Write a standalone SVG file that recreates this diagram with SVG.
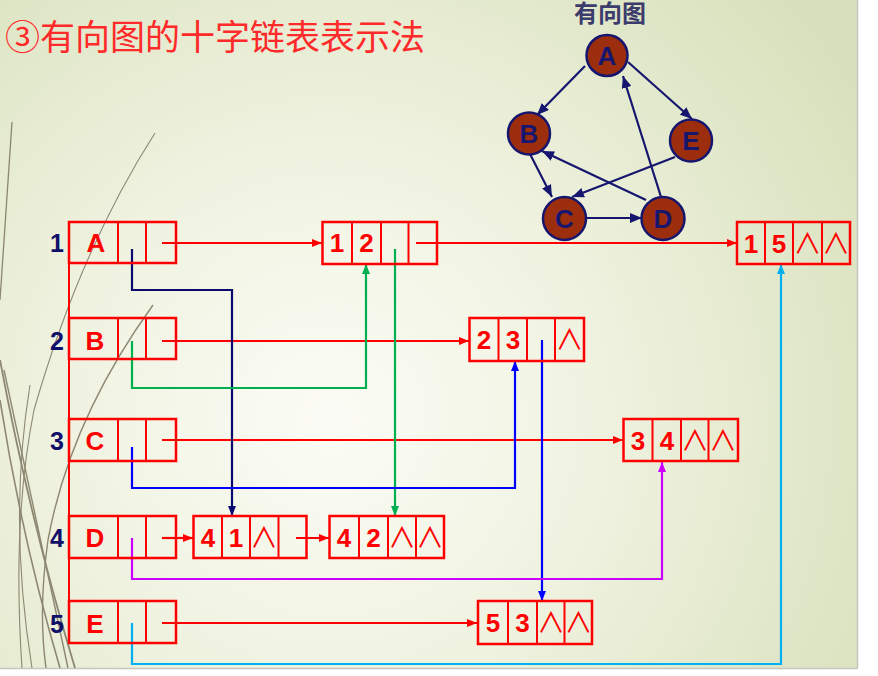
<svg xmlns="http://www.w3.org/2000/svg" width="878" height="676" viewBox="0 0 878 676">
<defs>
<radialGradient id="bg" cx="330" cy="420" r="620" gradientUnits="userSpaceOnUse">
<stop offset="0" stop-color="#fcfcf6"/>
<stop offset="0.45" stop-color="#eff2df"/>
<stop offset="1" stop-color="#d8e1bc"/>
</radialGradient>
<marker id="mRed" markerUnits="userSpaceOnUse" markerWidth="10" markerHeight="8" refX="10" refY="4" orient="auto"><path d="M0,0 L10,4 L0,8 z" fill="#ff0000"/></marker>
<marker id="mNavy" markerUnits="userSpaceOnUse" markerWidth="10" markerHeight="8" refX="10" refY="4" orient="auto"><path d="M0,0 L10,4 L0,8 z" fill="#0a0a6e"/></marker>
<marker id="mGreen" markerUnits="userSpaceOnUse" markerWidth="10" markerHeight="8" refX="10" refY="4" orient="auto"><path d="M0,0 L10,4 L0,8 z" fill="#00b050"/></marker>
<marker id="mBlue" markerUnits="userSpaceOnUse" markerWidth="10" markerHeight="8" refX="10" refY="4" orient="auto"><path d="M0,0 L10,4 L0,8 z" fill="#0000ff"/></marker>
<marker id="mPurple" markerUnits="userSpaceOnUse" markerWidth="10" markerHeight="8" refX="10" refY="4" orient="auto"><path d="M0,0 L10,4 L0,8 z" fill="#cc00ff"/></marker>
<marker id="mCyan" markerUnits="userSpaceOnUse" markerWidth="10" markerHeight="8" refX="10" refY="4" orient="auto"><path d="M0,0 L10,4 L0,8 z" fill="#00b0f0"/></marker>
<marker id="mG" markerUnits="userSpaceOnUse" markerWidth="12" markerHeight="10" refX="12" refY="5" orient="auto"><path d="M0,0 L12,5 L0,10 z" fill="#16166e"/></marker>
</defs>
<style>
.box{fill:none;stroke:#ff0000;stroke-width:2.5}
.dv{stroke:#ff0000;stroke-width:2}
.t{font-family:"Liberation Sans",Arial,sans-serif;font-weight:bold;font-size:26px;fill:#ff0000;text-anchor:middle}
.nul{font-family:"Noto Sans CJK SC","DejaVu Sans",sans-serif;font-weight:normal;font-size:28px;fill:#ff0000;text-anchor:middle}
.rl{font-family:"Liberation Sans",Arial,sans-serif;font-weight:bold;font-size:25px;fill:#10106a;text-anchor:middle}
.c{fill:none;stroke-width:2.2}
.red{stroke:#ff0000}
.gc{fill:#9c2e0e;stroke:#16166e;stroke-width:2.5}
.gt{font-family:"Liberation Sans",Arial,sans-serif;font-weight:bold;font-size:26px;fill:#16166e;text-anchor:middle}
.ge{stroke:#16166e;stroke-width:2.2;fill:none;marker-end:url(#mG)}
.deco{fill:none;stroke:#7d7660}
</style>
<rect x="0" y="0" width="878" height="676" fill="#ffffff"/>
<rect x="0" y="0" width="857" height="668" fill="url(#bg)"/>
<line x1="857.5" y1="0" x2="857.5" y2="668.5" stroke="#c4c6c0" stroke-width="1.5"/>
<line x1="0" y1="668.5" x2="857.5" y2="668.5" stroke="#c4c6c0" stroke-width="1.5"/>
<g id="decor" opacity="0.85">
<path class="deco" d="M12,122 Q6,210 0,300" stroke-width="1.3"/>
<path class="deco" d="M155,133 Q80,250 34,410 Q12,520 22,668" stroke="#cfcfba" stroke-width="1.1"/>
<path class="deco" d="M153,305 Q70,420 48,540 Q38,610 46,668" stroke-width="1.4"/>
<path class="deco" d="M0,360 Q30,520 75,668" stroke-width="1.8"/>
<path class="deco" d="M0,400 Q22,540 60,668" stroke-width="1.6"/>
<path class="deco" d="M4,370 Q38,530 68,668" stroke-width="1.4"/>
<path class="deco" d="M30,385 Q8,520 32,668" stroke="#cfcfba" stroke-width="1.1"/>
</g>
<text x="5" y="50" font-family="'Noto Sans CJK SC',sans-serif" font-size="35" fill="#ff2a2a">③有向图的十字链表表示法</text>
<text x="610" y="22" font-family="'Noto Sans CJK SC',sans-serif" font-weight="bold" font-size="24" fill="#3c3c6c" text-anchor="middle">有向图</text>
<g id="graph-edges">
<path class="ge" d="M585,66 L537,115"/>
<path class="ge" d="M628,62 L692,119"/>
<path class="ge" d="M530,154 L552,197"/>
<path class="ge" d="M675,157 L572,197"/>
<path class="ge" d="M587,218 L642,218"/>
<path class="ge" d="M661,197 L623,76"/>
<path class="ge" d="M646,200 L542,151"/>
</g>
<g id="gA"><circle class="gc" cx="607" cy="55.5" r="20.5"/><text class="gt" x="607" y="65">A</text></g>
<g id="gB"><circle class="gc" cx="529" cy="133.5" r="21"/><text class="gt" x="529" y="143">B</text></g>
<g id="gE"><circle class="gc" cx="691" cy="140.5" r="21"/><text class="gt" x="691" y="150">E</text></g>
<g id="gC"><circle class="gc" cx="564.5" cy="218.5" r="21.5"/><text class="gt" x="564.5" y="228">C</text></g>
<g id="gD"><circle class="gc" cx="663" cy="218.5" r="21.5"/><text class="gt" x="663" y="228">D</text></g>
<g id="connectors">
<path class="c red" d="M162,243 H322" marker-end="url(#mRed)"/>
<path class="c red" d="M416,243 H737" marker-end="url(#mRed)"/>
<path class="c red" d="M162,341 H469" marker-end="url(#mRed)"/>
<path class="c red" d="M162,440 H623" marker-end="url(#mRed)"/>
<path class="c red" d="M162,538 H193" marker-end="url(#mRed)"/>
<path class="c red" d="M296,538 H329" marker-end="url(#mRed)"/>
<path class="c red" d="M162,623 H477" marker-end="url(#mRed)"/>
<path class="c" stroke="#0a0a6e" d="M132,249 V290 H232 V516" marker-end="url(#mNavy)"/>
<path class="c" stroke="#00b050" d="M132,341 V388 H366 V264" marker-end="url(#mGreen)"/>
<path class="c" stroke="#00b050" d="M395,249 V516" marker-end="url(#mGreen)"/>
<path class="c" stroke="#0000ff" d="M132,447 V488 H515 V361" marker-end="url(#mBlue)"/>
<path class="c" stroke="#0000ff" d="M542,340 V601" marker-end="url(#mBlue)"/>
<path class="c" stroke="#cc00ff" d="M132,538 V579 H662 V462" marker-end="url(#mPurple)"/>
<path class="c" stroke="#00b0f0" d="M132,623 V664 H781 V264" marker-end="url(#mCyan)"/>
</g>
<line x1="69" y1="222" x2="69" y2="643" class="dv" stroke-width="2.5"/>
<g id="v1"><rect class="box" x="69" y="222" width="107" height="41"/><line class="dv" x1="118" y1="222" x2="118" y2="263"/><line class="dv" x1="146" y1="222" x2="146" y2="263"/><text class="rl" x="57" y="252">1</text><text class="t" x="96" y="252">A</text></g>
<g id="v2"><rect class="box" x="69" y="318" width="107" height="41"/><line class="dv" x1="118" y1="318" x2="118" y2="359"/><line class="dv" x1="146" y1="318" x2="146" y2="359"/><text class="rl" x="57" y="350">2</text><text class="t" x="95" y="350">B</text></g>
<g id="v3"><rect class="box" x="69" y="419" width="107" height="42"/><line class="dv" x1="118" y1="419" x2="118" y2="461"/><line class="dv" x1="146" y1="419" x2="146" y2="461"/><text class="rl" x="57" y="450">3</text><text class="t" x="95" y="450">C</text></g>
<g id="v4"><rect class="box" x="69" y="516" width="107" height="42"/><line class="dv" x1="118" y1="516" x2="118" y2="558"/><line class="dv" x1="146" y1="516" x2="146" y2="558"/><text class="rl" x="57" y="547">4</text><text class="t" x="95" y="547">D</text></g>
<g id="v5"><rect class="box" x="69" y="601" width="107" height="42"/><line class="dv" x1="118" y1="601" x2="118" y2="643"/><line class="dv" x1="146" y1="601" x2="146" y2="643"/><text class="rl" x="57" y="633">5</text><text class="t" x="95" y="633">E</text></g>
<g id="e12"><rect class="box" x="322.5" y="222" width="114.5" height="42"/><line class="dv" x1="352" y1="222" x2="352" y2="264"/><line class="dv" x1="381" y1="222" x2="381" y2="264"/><line class="dv" x1="408.5" y1="222" x2="408.5" y2="264"/><text class="t" x="337" y="252">1</text><text class="t" x="366.5" y="252">2</text></g>
<g id="e15"><rect class="box" x="737" y="222" width="113" height="42"/><line class="dv" x1="765" y1="222" x2="765" y2="264"/><line class="dv" x1="793" y1="222" x2="793" y2="264"/><line class="dv" x1="822" y1="222" x2="822" y2="264"/><text class="t" x="751" y="253">1</text><text class="t" x="779" y="253">5</text><text class="nul" x="807.5" y="254">∧</text><text class="nul" x="836" y="254">∧</text></g>
<g id="e23"><rect class="box" x="469.5" y="318" width="114.5" height="43"/><line class="dv" x1="498.5" y1="318" x2="498.5" y2="361"/><line class="dv" x1="527" y1="318" x2="527" y2="361"/><line class="dv" x1="555" y1="318" x2="555" y2="361"/><text class="t" x="484" y="349">2</text><text class="t" x="513" y="349">3</text><text class="nul" x="569.5" y="350">∧</text></g>
<g id="e34"><rect class="box" x="623.5" y="419" width="114.5" height="42"/><line class="dv" x1="652.5" y1="419" x2="652.5" y2="461"/><line class="dv" x1="681" y1="419" x2="681" y2="461"/><line class="dv" x1="708.5" y1="419" x2="708.5" y2="461"/><text class="t" x="638" y="450">3</text><text class="t" x="667" y="450">4</text><text class="nul" x="695" y="451">∧</text><text class="nul" x="723" y="451">∧</text></g>
<g id="e41"><rect class="box" x="193.5" y="516" width="113" height="42"/><line class="dv" x1="222" y1="516" x2="222" y2="558"/><line class="dv" x1="250" y1="516" x2="250" y2="558"/><line class="dv" x1="278.5" y1="516" x2="278.5" y2="558"/><text class="t" x="208" y="547">4</text><text class="t" x="236" y="547">1</text><text class="nul" x="264" y="548">∧</text></g>
<g id="e42"><rect class="box" x="329.5" y="516" width="114.5" height="42"/><line class="dv" x1="359" y1="516" x2="359" y2="558"/><line class="dv" x1="388" y1="516" x2="388" y2="558"/><line class="dv" x1="416" y1="516" x2="416" y2="558"/><text class="t" x="344" y="547">4</text><text class="t" x="373.5" y="547">2</text><text class="nul" x="402" y="548">∧</text><text class="nul" x="430" y="548">∧</text></g>
<g id="e53"><rect class="box" x="478" y="601" width="114" height="43"/><line class="dv" x1="508" y1="601" x2="508" y2="644"/><line class="dv" x1="537" y1="601" x2="537" y2="644"/><line class="dv" x1="564.5" y1="601" x2="564.5" y2="644"/><text class="t" x="493" y="632">5</text><text class="t" x="522.5" y="632">3</text><text class="nul" x="551" y="633">∧</text><text class="nul" x="578.5" y="633">∧</text></g>
</svg>
